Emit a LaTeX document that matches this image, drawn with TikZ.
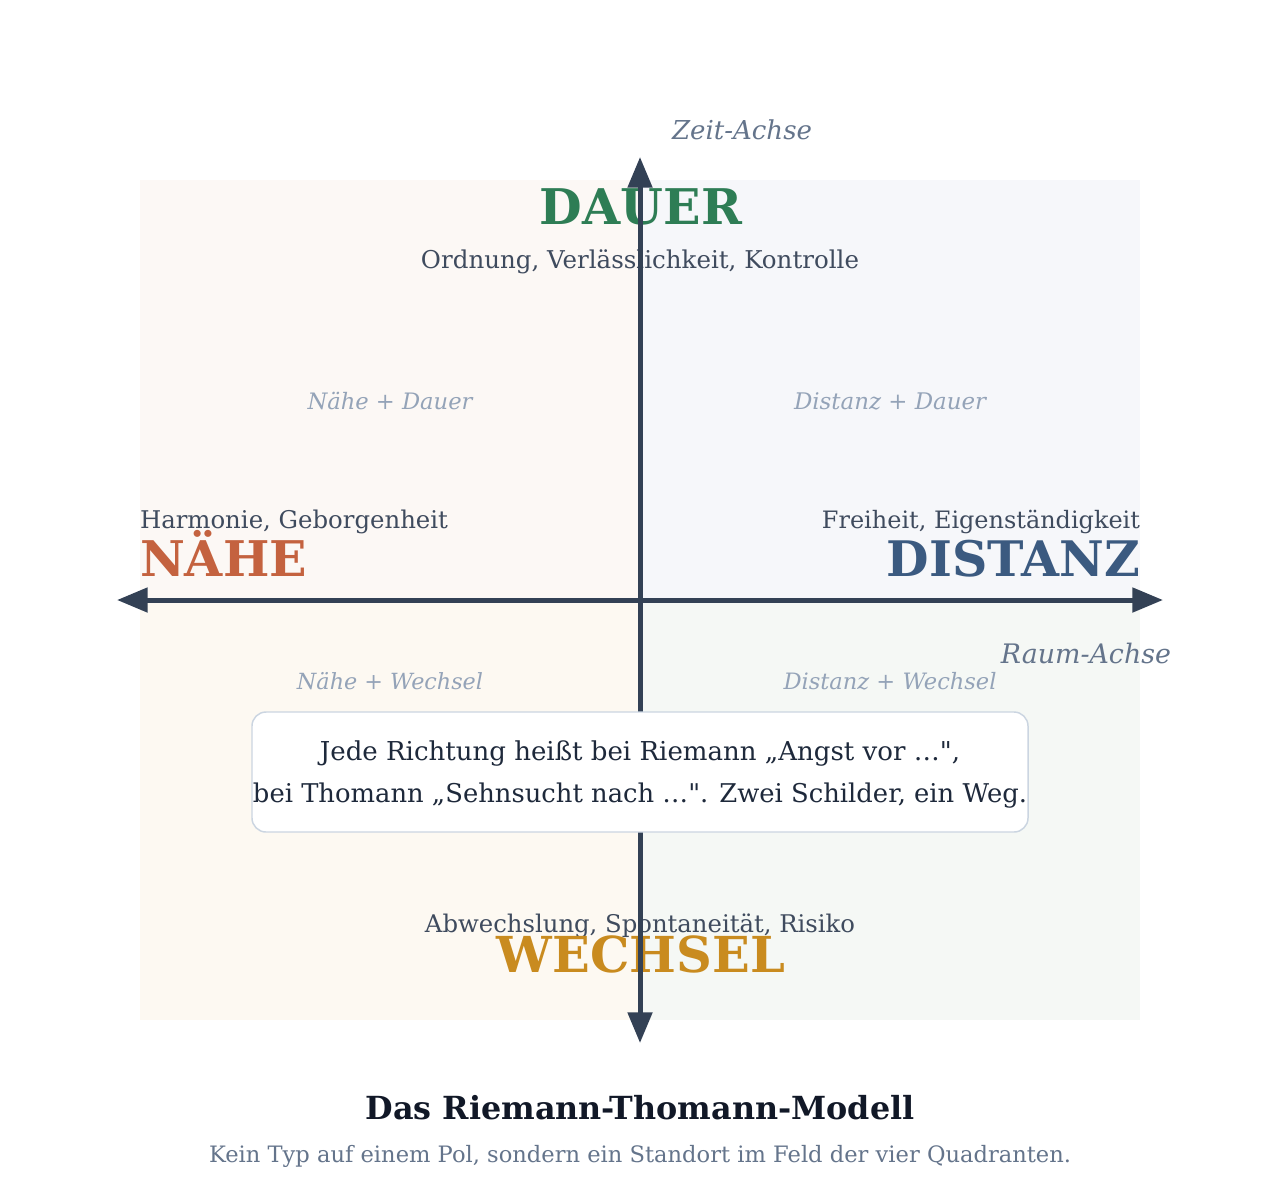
\documentclass[tikz,border=0pt]{standalone}
\usepackage{fontspec}
\setmainfont{DejaVu Serif}
\newfontfamily\plainserif{DejaVu Serif}
\usepackage{graphicx}
\usetikzlibrary{arrows.meta}
\definecolor{axiscol}{HTML}{334155}
\definecolor{axislab}{HTML}{64748B}
\definecolor{quadlab}{HTML}{94A3B8}
\definecolor{desccol}{HTML}{3F4B5E}
\definecolor{dauercol}{HTML}{2E7D55}
\definecolor{naehecol}{HTML}{C4623F}
\definecolor{distcol}{HTML}{3B5A80}
\definecolor{wechcol}{HTML}{C98B1F}
\definecolor{notetext}{HTML}{1E293B}
\definecolor{titlecol}{HTML}{111827}
\definecolor{noteborder}{HTML}{CBD5E1}
\definecolor{qTL}{HTML}{FCF8F5}
\definecolor{qTR}{HTML}{F6F7FA}
\definecolor{qBL}{HTML}{FDF9F2}
\definecolor{qBR}{HTML}{F5F8F5}
\newcommand{\fw}[2]{\resizebox{#1pt}{!}{#2}}
\newcommand{\sq}{{\plainserif"}}
\begin{document}
\begin{tikzpicture}[x=0.75pt,y=-0.75pt,
  txt/.style={inner sep=0pt,outer sep=0pt},
  axislabel/.style={txt,text=axislab,font=\itshape},
  quadlabel/.style={txt,text=quadlab,font=\itshape},
  desc/.style={txt,text=desccol},
  pole/.style={txt,font=\bfseries},
  axisline/.style={draw=axiscol,line width=3.75pt,
    {Triangle[length=23pt,width=18pt]}-{Triangle[length=23pt,width=18pt]}},
  notebox/.style={draw=noteborder,fill=white,line width=1.1pt,rounded corners=10.5pt}]
\useasboundingbox (0,0) rectangle (1280,1200);
\fill[white] (0,0) rectangle (1280,1200);
% quadrant backgrounds
\fill[qTL] (140,180) rectangle (640,600);
\fill[qTR] (640,180) rectangle (1140,600);
\fill[qBL] (140,600) rectangle (640,1020);
\fill[qBR] (640,600) rectangle (1140,1020);
% texts
\node[axislabel,anchor=base west] (zeit) at (672,139) {\fw{105}{Zeit-Achse}};
\node[pole,text=dauercol,anchor=base] (dauer) at (641,224) {\fw{151.5}{DAUER}};
\node[desc,anchor=base] (dauerdesc) at (640,268) {\fw{328.5}{Ordnung, Verlässlichkeit, Kontrolle}};
\node[quadlabel,anchor=base] (qnd) at (390,409) {\fw{123.75}{Nähe + Dauer}};
\node[quadlabel,anchor=base] (qdd) at (890,409) {\fw{144}{Distanz + Dauer}};
\node[desc,anchor=base west] (naehedesc) at (140,528) {\fw{231}{Harmonie, Geborgenheit}};
\node[pole,text=naehecol,anchor=base west] (naehe) at (140,576) {\fw{125.25}{NÄHE}};
\node[desc,anchor=base east] (distdesc) at (1140,528) {\fw{238.5}{Freiheit, Eigenständigkeit}};
\node[pole,text=distcol,anchor=base east] (distanz) at (1140,576) {\fw{189.75}{DISTANZ}};
\node[axislabel,anchor=base east] (raum) at (1171,663) {\fw{127.5}{Raum-Achse}};
\node[quadlabel,anchor=base] (qnw) at (390,689) {\fw{139.5}{Nähe + Wechsel}};
\node[quadlabel,anchor=base] (qdw) at (890,689) {\fw{159.75}{Distanz + Wechsel}};
\node[desc,anchor=base] (wechdesc) at (640,932) {\fw{322.5}{Abwechslung, Spontaneität, Risiko}};
\node[pole,text=wechcol,anchor=base] (wechsel) at (641,972) {\fw{216}{WECHSEL}};
% axes
\coordinate (L) at (117,600);
\coordinate (R) at (1163,600);
\coordinate (T) at (640,157);
\coordinate (B) at (640,1043);
\draw[axisline] (L) -- (R);
\draw[axisline] (T) -- (B);
% note box
\node[notebox,minimum width=582pt,minimum height=90pt,inner sep=0pt] (note) at (640,772) {};
\node[txt,text=notetext,anchor=base] (note1) at (640,760) {\fw{480}{Jede Richtung heißt bei Riemann „Angst vor …\sq,}};
\node[txt,text=notetext,anchor=base] (note2) at (640,802) {\fw{580.5}{bei Thomann „Sehnsucht nach …\sq. Zwei Schilder, ein Weg.}};
% title
\node[txt,text=titlecol,font=\bfseries,anchor=base] (title) at (640,1119) {\fw{411.75}{Das Riemann-Thomann-Modell}};
\node[txt,text=axislab,anchor=base] (subtitle) at (640,1162) {\fw{646.5}{Kein Typ auf einem Pol, sondern ein Standort im Feld der vier Quadranten.}};
\end{tikzpicture}
\end{document}
